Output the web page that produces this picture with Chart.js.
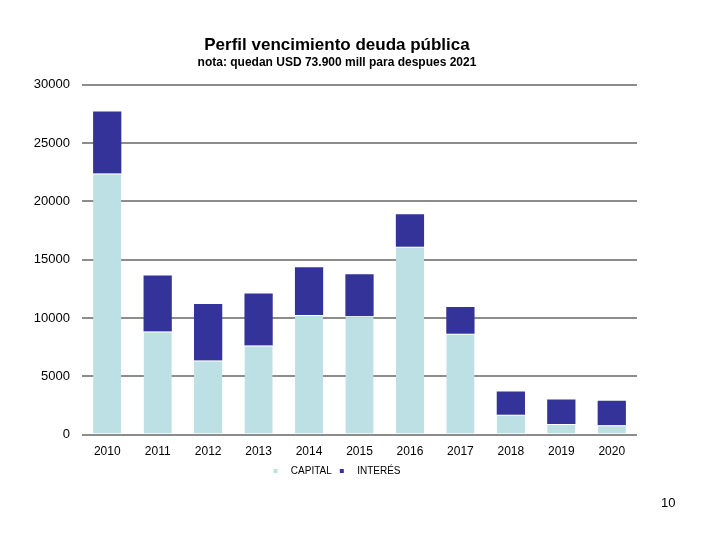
<!DOCTYPE html>
<html>
<head>
<meta charset="utf-8">
<script src="https://cdn.jsdelivr.net/npm/chart.js@4.4.0/dist/chart.umd.min.js"></script>
<style>
  html, body { margin: 0; padding: 0; background: #fff; }
  #wrap { position: relative; width: 720px; height: 540px; }
  #c { position: absolute; left: 0; top: 0; }
  #page { position: absolute; left: 661px; top: 495px; font: 13px "Liberation Sans", Arial, sans-serif; color: #000; }
</style>
</head>
<body>
<div id="wrap">
  <canvas id="c" width="674" height="540"></canvas>
  <div id="page">10</div>
</div>
<script>
const categories = ['2010','2011','2012','2013','2014','2015','2016','2017','2018','2019','2020'];
const capital = [22400, 8850, 6350, 7650, 10250, 10150, 16100, 8650, 1700, 900, 800];
const interes = [5300, 4800, 4850, 4450, 4100, 3600, 2800, 2300, 2000, 2100, 2100];
const seriesNames = ['CAPITAL', 'INTERÉS'];
const titleText = 'Perfil vencimiento deuda pública';
const subtitleText = 'nota: quedan USD 73.900 mill para despues 2021';

const FONT = '"Liberation Sans", Arial, sans-serif';

new Chart(document.getElementById('c'), {
  type: 'bar',
  data: {
    labels: categories,
    datasets: [
      { label: seriesNames[0], data: capital, backgroundColor: '#BCE0E3', borderColor: '#ffffff', borderWidth: {top: 1}, borderSkipped: 'bottom', barPercentage: 0.56, categoryPercentage: 1.0 },
      { label: seriesNames[1], data: interes, backgroundColor: '#333399', borderWidth: 0, barPercentage: 0.56, categoryPercentage: 1.0 }
    ]
  },
  options: {
    responsive: false,
    animation: false,
    layout: { padding: { left: 0, right: 0, top: 0, bottom: 54 } },
    plugins: {
      title: { display: true, text: titleText, color: '#000', font: { family: FONT, size: 17, weight: 'bold' }, padding: { top: 35, bottom: 0 } },
      subtitle: { display: true, text: subtitleText, color: '#000', font: { family: FONT, size: 12, weight: 'bold' }, padding: { top: 0, bottom: 15 } },
      legend: {
        position: 'bottom',
        labels: {
          color: '#000', font: { family: FONT, size: 10 }, boxWidth: 4, boxHeight: 4, padding: 8,
          generateLabels: (chart) => chart.data.datasets.map((ds, i) => ({
            text: '   ' + ds.label, fillStyle: ds.backgroundColor, strokeStyle: ds.backgroundColor, lineWidth: 0, datasetIndex: i, hidden: false
          }))
        }
      },
      tooltip: { enabled: false }
    },
    scales: {
      x: {
        stacked: true,
        afterFit: (s) => { s.height = s.height - 11; },
        grid: { display: false, drawTicks: false },
        border: { display: false },
        ticks: { color: '#000', font: { family: FONT, size: 12 }, padding: 10, maxRotation: 0 }
      },
      y: {
        stacked: true,
        min: 0, max: 30000,
        afterFit: (s) => { s.width = 82; },
        grid: { color: '#8C8C8C', lineWidth: 2, drawTicks: false },
        border: { display: false },
        ticks: { stepSize: 5000, color: '#000', font: { family: FONT, size: 13 }, padding: 12, callback: (v) => String(v) }
      },
      spacer: {
        type: 'linear',
        position: 'right',
        min: 0, max: 1,
        afterFit: (s) => { s.width = 37; },
        grid: { display: false, drawTicks: false },
        border: { display: false },
        ticks: { display: false }
      }
    }
  }
});
</script>
</body>
</html>
